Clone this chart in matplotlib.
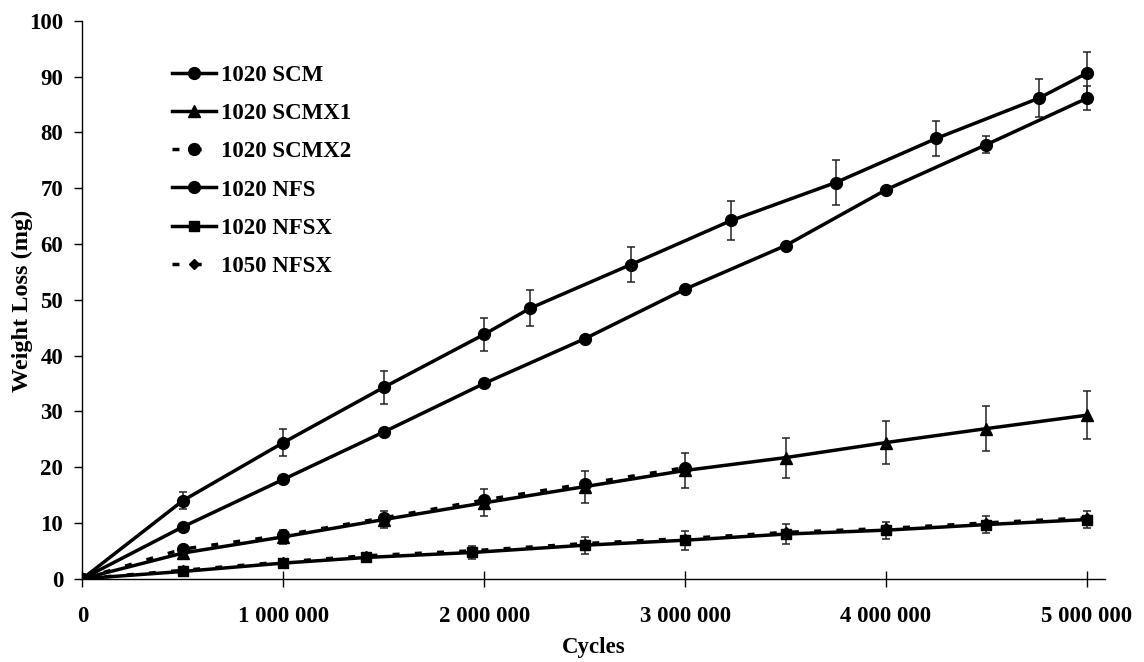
import matplotlib
matplotlib.use("Agg")
import matplotlib.pyplot as plt
from matplotlib.ticker import FuncFormatter, FixedLocator

plt.rcParams['font.family'] = ['Liberation Serif', 'DejaVu Serif']
plt.rcParams['font.weight'] = 'bold'

# ---------------- data ----------------
x_scm = [0, 500000, 1000000, 1500000, 2000000, 2230000, 2730000, 3230000, 3750000, 4250000, 4760000, 5000000]
y_scm = [0, 14.0, 24.4, 34.3, 43.8, 48.5, 56.3, 64.2, 71.0, 78.9, 86.1, 90.6]
e_scm = [0, 1.55, 2.4, 3.0, 3.0, 3.2, 3.2, 3.55, 4.05, 3.2, 3.4, 3.8]

x_scmx1 = [0, 500000, 1000000, 1500000, 2000000, 2500000, 3000000, 3500000, 4000000, 4500000, 5000000]
y_scmx1 = [0, 4.6, 7.5, 10.6, 13.6, 16.5, 19.4, 21.7, 24.4, 26.9, 29.3]
e_scmx1 = [0, 0.6, 1.3, 1.6, 2.4, 2.85, 3.15, 3.6, 3.9, 4.1, 4.35]

x_scmx2 = [0, 500000, 1000000, 1500000, 2000000, 2500000, 3000000]
y_scmx2 = [0, 5.3, 7.8, 10.9, 14.1, 17.0, 19.9]

x_nfs = [0, 500000, 1000000, 1500000, 2000000, 2500000, 3000000, 3500000, 4000000, 4500000, 5000000]
y_nfs = [0, 9.3, 17.8, 26.3, 35.0, 43.0, 51.9, 59.7, 69.7, 77.8, 86.1]
e_nfs = [0, 0, 0, 0, 0, 0, 0, 0, 0, 1.5, 2.15]

x_nfsx = [0, 500000, 1000000, 1410000, 1940000, 2500000, 3000000, 3500000, 4000000, 4500000, 5000000]
y_nfsx = [0, 1.3, 2.8, 3.8, 4.7, 6.0, 6.9, 8.0, 8.7, 9.7, 10.6]
e_nfsx = [0, 0.4, 0.6, 0.7, 1.2, 1.5, 1.7, 1.8, 1.5, 1.45, 1.6]

x_1050 = [0, 500000, 1000000, 1410000, 1940000, 2500000, 3000000, 3500000, 4000000, 4500000, 5000000]
y_1050 = [0, 1.5, 3.0, 4.1, 5.0, 6.3, 7.2, 8.3, 9.0, 10.0, 10.9]

x_ticks = [0, 1000000, 2000000, 3000000, 4000000, 5000000]
y_ticks = [0, 10, 20, 30, 40, 50, 60, 70, 80, 90, 100]

# ---------------- figure ----------------
W, H = 1144, 662
fig = plt.figure(figsize=(W / 100, H / 100), dpi=100)
ax = fig.add_axes([82.5 / W, 1 - 578.7 / H, (1105 - 82.5) / W, (578.7 - 20.7) / H])

lw = 2.5
dash = (0, (2.0, 4.4))
ecol = '#222222'

# error bars
for xs, ys, es in [(x_scm, y_scm, e_scm), (x_scmx1, y_scmx1, e_scmx1),
                   (x_nfs, y_nfs, e_nfs), (x_nfsx, y_nfsx, e_nfsx)]:
    ax.errorbar(xs, ys, yerr=es, fmt='none', ecolor=ecol, elinewidth=1.1,
                capsize=3.2, capthick=1.1, zorder=2)

# dashed series
l3, = ax.plot(x_scmx2, y_scmx2, color='black', lw=lw, ls=dash, marker='o', ms=8.5, zorder=3, label='1020 SCMX2')
l6, = ax.plot(x_1050, y_1050, color='black', lw=lw, ls=dash, marker='D', ms=5.5, zorder=3, label='1050 NFSX')
# solid series
l1, = ax.plot(x_scm, y_scm, color='black', lw=lw, marker='o', ms=8.5, zorder=4, label='1020 SCM')
l2, = ax.plot(x_scmx1, y_scmx1, color='black', lw=lw, marker='^', ms=8.5, zorder=4, label='1020 SCMX1')
l4, = ax.plot(x_nfs, y_nfs, color='black', lw=lw, marker='o', ms=8.5, zorder=4, label='1020 NFS')
l5, = ax.plot(x_nfsx, y_nfsx, color='black', lw=lw, marker='s', ms=7.5, zorder=5, label='1020 NFSX')

ax.set_xlim(0, 5090000)
ax.set_ylim(0, 100)
ax.xaxis.set_major_locator(FixedLocator(x_ticks))
ax.yaxis.set_major_locator(FixedLocator(y_ticks))
ax.xaxis.set_major_formatter(FuncFormatter(lambda v, p: '{:,}'.format(int(round(v))).replace(',', ' ')))

for s in ['top', 'right']:
    ax.spines[s].set_visible(False)
for s in ['left', 'bottom']:
    ax.spines[s].set_linewidth(1.0)
    ax.spines[s].set_color('black')

fs = 16.5
ax.tick_params(axis='y', direction='out', length=6, width=1.0, pad=8, labelsize=fs)
ax.tick_params(axis='x', direction='inout', length=12, width=1.0, pad=14, labelsize=fs)
for lab in ax.get_xticklabels() + ax.get_yticklabels():
    lab.set_fontweight('bold')

ax.set_xlabel('Cycles', fontsize=fs, fontweight='bold', labelpad=6.5)
ax.set_ylabel('Weight Loss (mg)', fontsize=17.5, fontweight='bold')
ax.yaxis.set_label_coords((33 - 82.5) / (1105 - 82.5), (578.7 - 301) / 558)

leg = ax.legend(handles=[l1, l2, l3, l4, l5, l6], loc='upper left',
                bbox_to_anchor=(0.0875, 0.921), frameon=False, borderaxespad=0,
                borderpad=0, handlelength=1.9, handletextpad=0.25, labelspacing=0.75,
                prop={'size': fs, 'weight': 'bold'})

fig.savefig('out.png', dpi=100)
